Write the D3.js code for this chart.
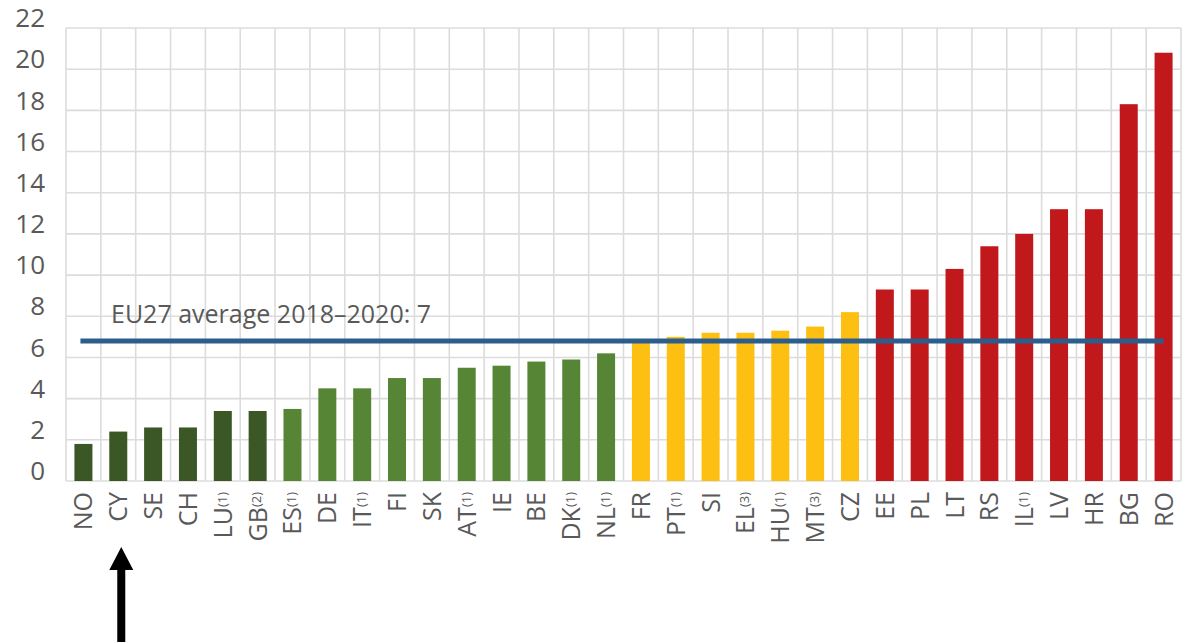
<!DOCTYPE html>
<html>
<head>
<meta charset="utf-8">
<script src="https://cdn.jsdelivr.net/npm/d3@7"></script>
<style>
  html, body { margin: 0; padding: 0; background: #fff; }
  #chart { width: 1189px; height: 643px; }
</style>
</head>
<body>
<div id="chart"></div>
<script>
// Country codes, footnote markers and values
const countries = ['NO','CY','SE','CH','LU','GB','ES','DE','IT','FI','SK','AT','IE','BE','DK','NL',
  'FR','PT','SI','EL','HU','MT','CZ','EE','PL','LT','RS','IL','LV','HR','BG','RO'];
const notes = ['','','','','(1)','(2)','(1)','','(1)','','','(1)','','','(1)','(1)',
  '','(1)','','(3)','(1)','(3)','','','','','','(1)','','','',''];
const values = [1.8, 2.4, 2.6, 2.6, 3.4, 3.4, 3.5, 4.5, 4.5, 5.0, 5.0, 5.5, 5.6, 5.8, 5.9, 6.2,
  6.8, 7.0, 7.2, 7.2, 7.3, 7.5, 8.2, 9.3, 9.3, 10.3, 11.4, 12.0, 13.2, 13.2, 18.3, 20.8];
const groups = ['a','a','a','a','a','a','b','b','b','b','b','b','b','b','b','b',
  'c','c','c','c','c','c','c','d','d','d','d','d','d','d','d','d'];
const yTicks = [0, 2, 4, 6, 8, 10, 12, 14, 16, 18, 20, 22];
const average = 6.8;
const averageLabel = 'EU27 average 2018\u20132020: 7';

const groupColor = {a: '#3b5726', b: '#568535', c: '#fdbf11', d: '#c0181b'};

const W = 1189, H = 643;
const margin = {top: 28, right: 8, bottom: 162, left: 66};
const width = W - margin.left - margin.right;
const height = H - margin.top - margin.bottom;
const font = '"Open Sans", "Noto Sans", sans-serif';

const svg = d3.select('#chart').append('svg')
  .attr('width', W)
  .attr('height', H)
  .append('g')
  .attr('transform', `translate(${margin.left},${margin.top})`);

const x = d3.scaleBand()
  .domain(countries)
  .range([0, width])
  .paddingInner(0)
  .paddingOuter(0);
const y = d3.scaleLinear()
  .domain([0, 22])
  .range([height, 0]);

// Horizontal grid
svg.append('g')
  .selectAll('line')
  .data(yTicks)
  .enter()
  .append('line')
  .attr('x1', 0)
  .attr('x2', width)
  .attr('y1', d => y(d))
  .attr('y2', d => y(d))
  .attr('stroke', '#dcdcdc')
  .attr('stroke-width', 1.6);

// Vertical grid at band edges
const edges = countries.map(c => x(c)).concat([width]);
svg.append('g')
  .selectAll('line')
  .data(edges)
  .enter()
  .append('line')
  .attr('x1', d => d)
  .attr('x2', d => d)
  .attr('y1', 0)
  .attr('y2', height)
  .attr('stroke', '#dcdcdc')
  .attr('stroke-width', 1.6);

// Y axis labels
const yAxis = svg.append('g')
  .call(d3.axisLeft(y).tickValues(yTicks).tickSize(0).tickPadding(21));
yAxis.select('.domain').remove();
yAxis.selectAll('text')
  .attr('dy', '-0.05em')
  .style('font-family', font)
  .style('font-size', '26px')
  .attr('fill', '#595959');

// Bars
const barW = 18;
svg.append('g')
  .selectAll('rect')
  .data(countries)
  .enter()
  .append('rect')
  .attr('x', (d) => x(d) + (x.bandwidth() - barW) / 2)
  .attr('y', (d, i) => y(values[i]))
  .attr('width', barW)
  .attr('height', (d, i) => height - y(values[i]))
  .attr('fill', (d, i) => groupColor[groups[i]]);

// Average line
svg.append('line')
  .attr('x1', x(countries[0]) + x.bandwidth() / 2 - 3)
  .attr('x2', x(countries[countries.length - 1]) + x.bandwidth() / 2)
  .attr('y1', y(average))
  .attr('y2', y(average))
  .attr('stroke', '#2b5e8d')
  .attr('stroke-width', 4.8);

svg.append('text')
  .attr('x', 45)
  .attr('y', y(average) - 18)
  .style('font-family', font)
  .style('font-size', '25px')
  .attr('fill', '#595959')
  .text(averageLabel);

// X labels, rotated
const xl = svg.append('g')
  .selectAll('text')
  .data(countries)
  .enter()
  .append('text')
  .attr('transform', d => `translate(${x(d) + x.bandwidth() / 2},${height + 11}) rotate(-90)`)
  .attr('text-anchor', 'end')
  .attr('dy', '0.36em')
  .style('font-family', font)
  .style('font-size', '25px')
  .attr('fill', '#595959');
xl.append('tspan').text(d => d);
xl.append('tspan')
  .attr('dy', '-0.4em')
  .style('font-size', '13px')
  .text((d, i) => notes[i]);

// Arrow pointing at CY
const ax = x('CY') + x.bandwidth() / 2 + 3;
const tipY = 519, headY = 542, bottomY = 614;
svg.append('path')
  .attr('d', `M${ax},${tipY} L${ax + 12},${headY} L${ax + 4},${headY} L${ax + 4},${bottomY}` +
    ` L${ax - 4},${bottomY} L${ax - 4},${headY} L${ax - 12},${headY} Z`)
  .attr('fill', '#000');
</script>
</body>
</html>
